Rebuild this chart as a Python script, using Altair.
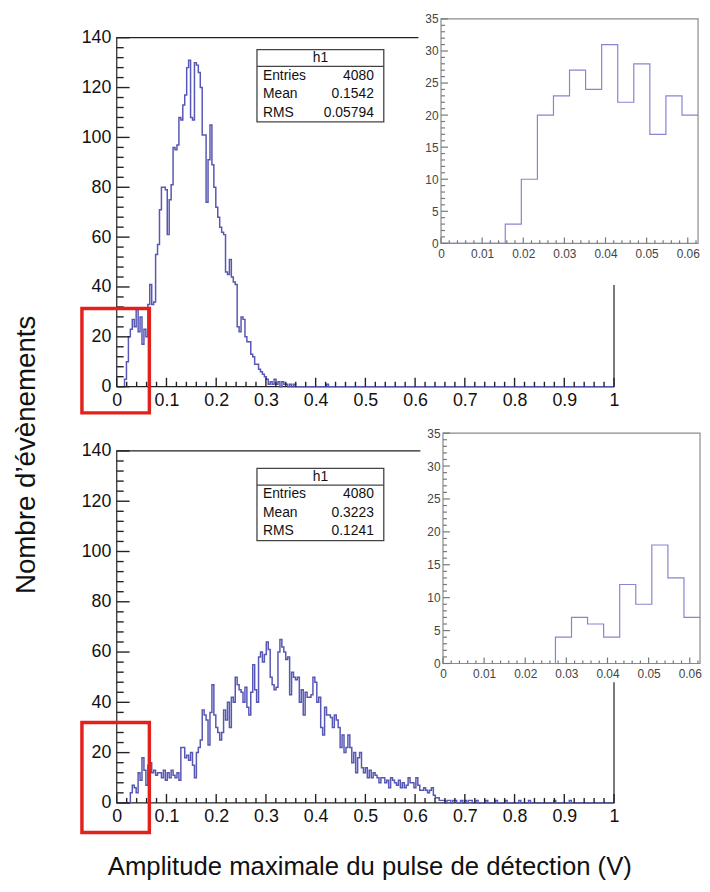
import altair as alt
import pandas as pd

FONT = "Liberation Sans"
W, H = 702, 876
N_BINS = 256

# ---- histogram contents (bins of width 1/256 V) ----
top_head = [0, 0, 0, 0, 3, 10, 20, 23, 27, 24, 31, 22, 28, 17, 23, 20,
            33, 41, 33, 34, 53, 57, 71, 80, 80, 79, 61, 75, 81, 96, 95, 97,
            108, 107, 113, 117, 128, 131, 108, 107, 130, 129, 126, 120, 101, 101, 74, 91,
            105, 89, 80, 72, 68, 64, 62, 61, 46, 45, 51, 44, 42, 41, 24, 22,
            28, 27, 20, 18, 18, 13, 12, 9, 9, 7, 6, 5, 4, 3, 1, 2,
            1, 3, 1, 2, 0, 2, 1, 1, 0, 1, 0, 1]
top_tail = {108: 1}

bottom_head = [0, 0, 0, 0, 0, 0, 0, 4, 7, 6, 4, 12, 9, 18, 13, 7,
               15, 16, 12, 13, 11, 12, 12, 10, 13, 9, 12, 10, 13, 11, 10, 12,
               9, 22, 22, 18, 19, 17, 20, 15, 10, 20, 22, 25, 37, 35, 33, 23,
               36, 47, 35, 30, 28, 25, 28, 37, 33, 40, 30, 42, 40, 50, 47, 45,
               44, 40, 46, 38, 35, 44, 55, 45, 40, 58, 60, 56, 59, 64, 61, 50,
               47, 45, 46, 60, 65, 62, 60, 57, 58, 43, 52, 50, 49, 50, 40, 45,
               35, 44, 42, 42, 43, 50, 48, 40, 42, 30, 27, 38, 35, 35, 34, 30,
               35, 33, 30, 22, 27, 20, 22, 27, 22, 16, 20, 12, 18, 20, 14, 12,
               14, 10, 13, 10, 12, 11, 10, 8, 10, 10, 8, 9, 6, 10, 9, 8,
               7, 9, 6, 8, 6, 7, 10, 8, 8, 6, 10, 7, 5, 5, 6, 5,
               4, 5, 6, 3, 2, 2, 1, 1, 1, 0, 1]
bottom_tail = {171: 1, 173: 1, 174: 1, 177: 1, 179: 1, 181: 1, 182: 1, 185: 1,
               190: 1, 195: 1, 200: 1, 207: 1, 212: 1, 225: 1, 233: 1}

INSET_BINS = 16
stat_names = ["Entries", "Mean", "RMS"]
top_stats = ["4080", "0.1542", "0.05794"]
bottom_stats = ["4080", "0.3223", "0.1241"]
zoom_window_x = [-0.07, 0.0656]
zoom_window_y_top = [-10.5, 31.4]
zoom_window_y_bottom = [-11.8, 32.0]

main_x_major = [i / 10 for i in range(11)]
main_x_minor = [i / 50 for i in range(51) if i % 5]
main_y_major = list(range(0, 141, 20))
main_y_minor = [v for v in range(0, 141, 4) if v % 20]
inset_x_major = [i / 100 for i in range(7)]
inset_x_minor = [i * 0.002 for i in range(32) if i % 5]
inset_y_major = list(range(0, 36, 5))
inset_y_minor = [v for v in range(0, 36) if v % 5]


def full(head, tail):
    c = list(head) + [0] * (N_BINS - len(head))
    for k, v in tail.items():
        c[k] = v
    return c


top_counts = full(top_head, top_tail)
bottom_counts = full(bottom_head, bottom_tail)


def hist_df(counts, nb):
    xs = [i / N_BINS for i in range(nb)] + [nb / N_BINS]
    ys = list(counts[:nb]) + [counts[nb - 1]]
    return pd.DataFrame({"edge": xs, "count": ys})


def rule_ticks(orient_ch, vals, xs, ys, xa, ya, length_units, color, width):
    """Inward tick marks drawn as short rules; length is in data units of the other axis."""
    if orient_ch == "x":
        df = pd.DataFrame({"ka": vals, "kc": [0.0] * len(vals), "kd": [length_units] * len(vals)})
        return alt.Chart(df).mark_rule(color=color, strokeWidth=width).encode(
            x=alt.X("ka:Q", scale=xs, axis=xa),
            y=alt.Y("kc:Q", scale=ys, axis=ya), y2="kd:Q")
    df = pd.DataFrame({"ka": [0.0] * len(vals), "kb": [length_units] * len(vals), "kc": vals})
    return alt.Chart(df).mark_rule(color=color, strokeWidth=width).encode(
        x=alt.X("ka:Q", scale=xs, axis=xa), x2="kb:Q",
        y=alt.Y("kc:Q", scale=ys, axis=ya))


def main_panel(counts, xrange, yrange, stats_vals, box, zoom_y):
    xs = alt.Scale(domain=[0, 1], range=xrange, nice=False, zero=False)
    ys = alt.Scale(domain=[0, 140], range=yrange, nice=False, zero=False)
    px_x = (xrange[1] - xrange[0])
    px_y = (yrange[0] - yrange[1]) / 140.0
    xa = alt.Axis(orient="bottom", offset=yrange[0] - H, values=main_x_major,
                  format=".1~f", labelFontSize=18, labelFont=FONT, labelColor="#111",
                  labelPadding=5, ticks=False, domain=False, grid=False, title=None,
                  labelFlush=False, labelOverlap=False)
    ya = alt.Axis(orient="left", offset=-xrange[0], values=main_y_major,
                  labelFontSize=18, labelFont=FONT, labelColor="#111", labelPadding=6,
                  ticks=False, domain=False, grid=False, title=None,
                  labelFlush=False, labelOverlap=False)
    frame = alt.Chart(pd.DataFrame({"x0": [0], "x1": [1], "y0": [0], "y1": [140]})).mark_rect(
        fillOpacity=0, stroke="#222", strokeWidth=1.2).encode(
        x=alt.X("x0:Q", scale=xs, axis=xa), x2="x1:Q",
        y=alt.Y("y0:Q", scale=ys, axis=ya), y2="y1:Q")
    hist = alt.Chart(hist_df(counts, N_BINS)).mark_line(
        interpolate="step-after", color="#5757b5", strokeWidth=1.5).encode(
        x=alt.X("edge:Q", scale=xs, axis=xa), y=alt.Y("count:Q", scale=ys, axis=ya))
    layers = [frame, hist,
              rule_ticks("x", main_x_major, xs, ys, xa, ya, 9 / px_y, "#222", 1.4),
              rule_ticks("x", main_x_minor, xs, ys, xa, ya, 5 / px_y, "#222", 1.4),
              rule_ticks("y", main_y_major, xs, ys, xa, ya, 13 / px_x, "#222", 1.4),
              rule_ticks("y", main_y_minor, xs, ys, xa, ya, 7 / px_x, "#222", 1.4)]
    bx = pd.DataFrame([box])
    layers.append(alt.Chart(bx).mark_rect(fill="white", stroke="#444", strokeWidth=1.3).encode(
        x=alt.X("x0:Q", scale=xs, axis=xa), x2="x1:Q",
        y=alt.Y("y0:Q", scale=ys, axis=ya), y2="y1:Q"))
    layers.append(alt.Chart(bx).mark_rule(color="#444", strokeWidth=1.1).encode(
        x=alt.X("x0:Q", scale=xs, axis=xa), x2="x1:Q", y=alt.Y("ydiv:Q", scale=ys, axis=ya)))
    step = (box["ydiv"] - box["y0"]) / 3
    rows_y = [box["ydiv"] - step * (k + 0.5) for k in range(3)]
    title_df = pd.DataFrame({"tx": [(box["x0"] + box["x1"]) / 2],
                             "ty": [(box["y1"] + box["ydiv"]) / 2], "t": ["h1"]})
    layers.append(alt.Chart(title_df).mark_text(font=FONT, fontSize=14, color="#111",
                                                align="center", baseline="middle").encode(
        x=alt.X("tx:Q", scale=xs, axis=xa), y=alt.Y("ty:Q", scale=ys, axis=ya), text="t:N"))
    lab_df = pd.DataFrame({"tx": [box["x0"] + 0.012] * 3, "ty": rows_y, "t": stat_names})
    layers.append(alt.Chart(lab_df).mark_text(font=FONT, fontSize=14, color="#111",
                                              align="left", baseline="middle").encode(
        x=alt.X("tx:Q", scale=xs, axis=xa), y=alt.Y("ty:Q", scale=ys, axis=ya), text="t:N"))
    val_df = pd.DataFrame({"tx": [box["x1"] - 0.02] * 3, "ty": rows_y, "t": stats_vals})
    layers.append(alt.Chart(val_df).mark_text(font=FONT, fontSize=14, color="#111",
                                              align="right", baseline="middle").encode(
        x=alt.X("tx:Q", scale=xs, axis=xa), y=alt.Y("ty:Q", scale=ys, axis=ya), text="t:N"))
    zw = pd.DataFrame({"x0": [zoom_window_x[0]], "x1": [zoom_window_x[1]],
                       "y0": [zoom_y[0]], "y1": [zoom_y[1]]})
    layers.append(alt.Chart(zw).mark_rect(fillOpacity=0, stroke="#e3211c", strokeWidth=3.5).encode(
        x=alt.X("x0:Q", scale=xs, axis=xa), x2="x1:Q",
        y=alt.Y("y0:Q", scale=ys, axis=ya), y2="y1:Q"))
    return alt.layer(*layers)


def inset_panel(counts, xrange, yrange, pad):
    xmax = INSET_BINS / N_BINS
    xs = alt.Scale(domain=[0, xmax], range=xrange, nice=False, zero=False)
    ys = alt.Scale(domain=[0, 35], range=yrange, nice=False, zero=False)
    px_x = (xrange[1] - xrange[0]) / xmax
    px_y = (yrange[0] - yrange[1]) / 35.0
    xa = alt.Axis(orient="bottom", offset=yrange[0] - H, values=inset_x_major,
                  format=".2~f", labelFontSize=12, labelFont=FONT, labelColor="#444",
                  labelPadding=5, ticks=False, domain=False, grid=False, title=None,
                  labelFlush=False, labelOverlap=False, zindex=1)
    ya = alt.Axis(orient="left", offset=-xrange[0], values=inset_y_major,
                  labelFontSize=12, labelFont=FONT, labelColor="#444", labelPadding=3,
                  ticks=False, domain=False, grid=False, title=None,
                  labelFlush=False, labelOverlap=False, zindex=1)
    padr = alt.Chart(pd.DataFrame([pad])).mark_rect(fill="white").encode(
        x=alt.X("x0:Q", scale=xs, axis=xa), x2="x1:Q",
        y=alt.Y("y0:Q", scale=ys, axis=ya), y2="y1:Q")
    frame = alt.Chart(pd.DataFrame({"x0": [0], "x1": [xmax], "y0": [0], "y1": [35]})).mark_rect(
        fillOpacity=0, stroke="#8a8a8a", strokeWidth=1.2).encode(
        x=alt.X("x0:Q", scale=xs, axis=xa), x2="x1:Q",
        y=alt.Y("y0:Q", scale=ys, axis=ya), y2="y1:Q")
    hist = alt.Chart(hist_df(counts, INSET_BINS)).mark_line(
        interpolate="step-after", color="#8585d4", strokeWidth=1.2).encode(
        x=alt.X("edge:Q", scale=xs, axis=xa), y=alt.Y("count:Q", scale=ys, axis=ya))
    return alt.layer(
        padr, frame, hist,
        rule_ticks("x", inset_x_major, xs, ys, xa, ya, 6 / px_y, "#777", 1.2),
        rule_ticks("x", inset_x_minor, xs, ys, xa, ya, 3 / px_y, "#777", 1.2),
        rule_ticks("y", inset_y_major, xs, ys, xa, ya, 7 / px_x, "#777", 1.2),
        rule_ticks("y", inset_y_minor, xs, ys, xa, ya, 4 / px_x, "#777", 1.2))


top_main = main_panel(top_counts, [110, 613], [378, 25], top_stats,
                      {"x0": 0.282, "x1": 0.537, "y0": 106.2, "y1": 135.2, "ydiv": 128.5},
                      zoom_window_y_top)
bottom_main = main_panel(bottom_counts, [110, 613], [799, 443], bottom_stats,
                         {"x0": 0.282, "x1": 0.537, "y0": 104.3, "y1": 133.1, "ydiv": 126.4},
                         zoom_window_y_bottom)
top_inset = inset_panel(top_counts, [438, 698], [233, 6],
                        {"x0": -0.0055, "x1": 0.0652, "y0": -6.5, "y1": 38})
bottom_inset = inset_panel(bottom_counts, [440, 700], [658, 425],
                           {"x0": -0.0055, "x1": 0.0652, "y0": -2.85, "y1": 37.3})

ytitle = alt.Chart(pd.DataFrame({"t": ["Nombre d\u2019\u00e9v\u00e8nements"]})).mark_text(
    font=FONT, fontSize=28, angle=270, color="#111", align="center", baseline="middle").encode(
    x=alt.value(19), y=alt.value(447), text="t:N")
xtitle = alt.Chart(pd.DataFrame({"t": ["Amplitude maximale du pulse de d\u00e9tection (V)"]})).mark_text(
    font=FONT, fontSize=26, color="#111", align="center", baseline="middle").encode(
    x=alt.value(366), y=alt.value(864), text="t:N")

chart = alt.layer(top_main, bottom_main, top_inset, bottom_inset, ytitle, xtitle).resolve_scale(
    x="independent", y="independent").resolve_axis(x="independent", y="independent").properties(
    width=W, height=H, autosize=alt.AutoSizeParams(type="none"), padding=0,
    background="white").configure_view(stroke=None)

chart.save("out.html", embed_options={"renderer": "svg", "actions": False})
